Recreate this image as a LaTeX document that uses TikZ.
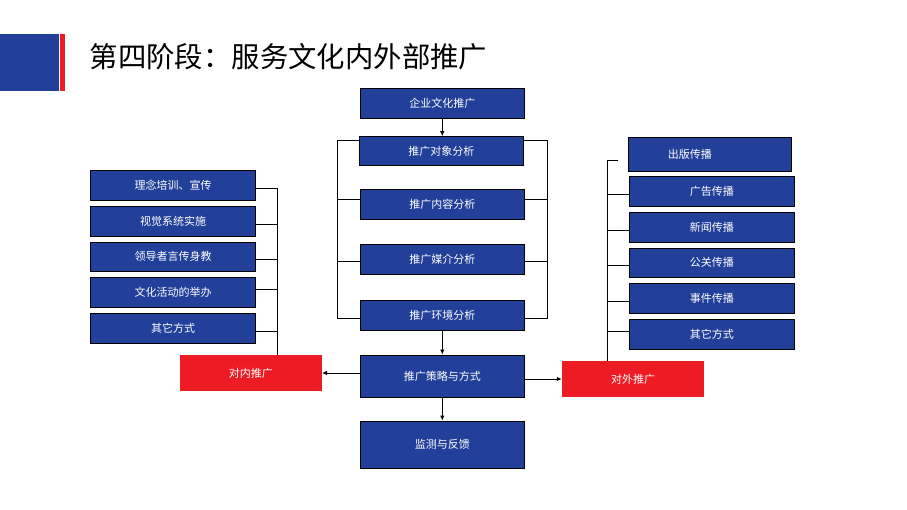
\documentclass[tikz,border=0pt]{standalone}
\usepackage{fontspec}
\newfontfamily\cjk{Noto Sans CJK SC}
\usetikzlibrary{arrows.meta}
\definecolor{bblue}{HTML}{22409A}
\definecolor{rred}{HTML}{ED1C24}
\tikzset{
  bluebox/.style={draw=black, line width=0.9pt, fill=bblue, text=white, font=\cjk\fontsize{11}{13}\selectfont, inner sep=0pt, minimum width=164pt},
  redbox/.style={fill=rred, text=white, font=\cjk\fontsize{11}{13}\selectfont, inner sep=0pt, minimum width=142pt, minimum height=35.7pt},
  conn/.style={line width=0.9pt, black},
  arr/.style={conn, -{Latex[length=5pt,width=4.5pt]}}
}
\begin{document}
\begin{tikzpicture}[x=1pt,y=-1pt]
\useasboundingbox (0,0) rectangle (907,510);
% header
\fill[bblue] (0,34) rectangle (59,90.7);
\fill[rred] (59.7,34) rectangle (65,90.7);
\node[anchor=west, inner sep=0pt, font=\cjk\fontsize{28.4}{30}\selectfont] (title) at (89.5,56.5) {第四阶段：服务文化内外部推广};
% center column
\node[bluebox, minimum height=30pt] (n1) at (442.3,103.3) {企业文化推广};
\node[bluebox, minimum height=29.3pt] (n2) at (441.3,151.3) {推广对象分析};
\node[bluebox, minimum height=30pt] (n3) at (442.3,204.2) {推广内容分析};
\node[bluebox, minimum height=30pt] (n4) at (442.3,259.3) {推广媒介分析};
\node[bluebox, minimum height=30pt] (n5) at (442.3,315) {推广环境分析};
\node[bluebox, minimum height=42.3pt] (n6) at (442.3,376.2) {推广策略与方式};
\node[bluebox, minimum height=47.3pt] (n7) at (442.3,444.7) {监测与反馈};
% red boxes
\node[redbox] (L) at (250.8,372.9) {对内推广};
\node[redbox] (R) at (633,378.9) {对外推广};
% left boxes
\node[bluebox, minimum width=165.4pt, minimum height=30pt] (l1) at (173,185.3) {理念培训、宣传};
\node[bluebox, minimum width=165.4pt, minimum height=30pt] (l2) at (173,221.3) {视觉系统实施};
\node[bluebox, minimum width=165.4pt, minimum height=29pt] (l3) at (173,256.8) {领导者言传身教};
\node[bluebox, minimum width=165.4pt, minimum height=30pt] (l4) at (173,292.3) {文化活动的举办};
\node[bluebox, minimum width=165.4pt, minimum height=30pt] (l5) at (173,328.3) {其它方式};
% right boxes
\node[bluebox, minimum width=163pt, minimum height=34pt] (r1) at (709.8,154.3) {\hspace*{-40pt}出版传播};
\node[bluebox, minimum width=165pt, minimum height=30pt] (r2) at (711.8,191.3) {广告传播};
\node[bluebox, minimum width=165pt, minimum height=30pt] (r3) at (711.8,227.3) {新闻传播};
\node[bluebox, minimum width=165pt, minimum height=29pt] (r4) at (711.8,262.8) {公关传播};
\node[bluebox, minimum width=165pt, minimum height=30pt] (r5) at (711.8,298.3) {事件传播};
\node[bluebox, minimum width=165pt, minimum height=30pt] (r6) at (711.8,334.3) {其它方式};
% bracket coordinates
\coordinate (cl1) at (337.3,140.7);
\coordinate (cl2) at (337.3,199);
\coordinate (cl3) at (337.3,261.7);
\coordinate (cl4) at (337.3,318.3);
\coordinate (cr1) at (547.3,140.7);
\coordinate (cr2) at (547.3,199);
\coordinate (cr3) at (547.3,261.7);
\coordinate (cr4) at (547.3,318.3);
\coordinate (lt) at (277.3,188.3);
\coordinate (rt) at (607.7,160);
\coordinate (rs) at (617.7,160);
% center brackets
\draw[conn] ([yshift=10.6pt]n2.west) -- (cl1) -- (cl4) -- ([yshift=-3.3pt]n5.west);
\draw[conn] ([yshift=5.2pt]n3.west) -- (cl2);
\draw[conn] ([yshift=-2.4pt]n4.west) -- (cl3);
\draw[conn] ([yshift=10.6pt]n2.east) -- (cr1) -- (cr4) -- ([yshift=-3.3pt]n5.east);
\draw[conn] ([yshift=5.2pt]n3.east) -- (cr2);
\draw[conn] ([yshift=-2.4pt]n4.east) -- (cr3);
% center arrows
\draw[arr] (n1.south) -- (n2.north -| n1.south);
\draw[arr] (n5.south) -- (n6.north);
\draw[arr] (n6.south) -- (n7.north);
\draw[arr] ([yshift=3.2pt]n6.west) -- ([yshift=3.2pt]n6.west -| L.east);
\draw[arr] ([yshift=-2.8pt]n6.east) -- ([yshift=-2.8pt]n6.east -| R.west);
% left group
\draw[conn] (lt) -- (lt |- L.north);
\draw[conn] ([yshift=-3pt]l1.east) -- (lt);
\draw[conn] ([yshift=-2.7pt]l2.east) -- ++(21.6,0);
\draw[conn] ([yshift=-2.5pt]l3.east) -- ++(21.6,0);
\draw[conn] ([yshift=3.3pt]l4.east) -- ++(21.6,0);
\draw[conn] ([yshift=-3pt]l5.east) -- ++(21.6,0);
% right group
\draw[conn] (rt) -- (rt |- R.north);
\draw[conn] (rt) -- (rs);
\draw[conn] ([yshift=-2.7pt]r2.west) -- ++(-21.6,0);
\draw[conn] ([yshift=-2.7pt]r3.west) -- ++(-21.6,0);
\draw[conn] ([yshift=-2.5pt]r4.west) -- ++(-21.6,0);
\draw[conn] ([yshift=-3pt]r5.west) -- ++(-21.6,0);
\draw[conn] ([yshift=3pt]r6.west) -- ++(-21.6,0);
\end{tikzpicture}
\end{document}
